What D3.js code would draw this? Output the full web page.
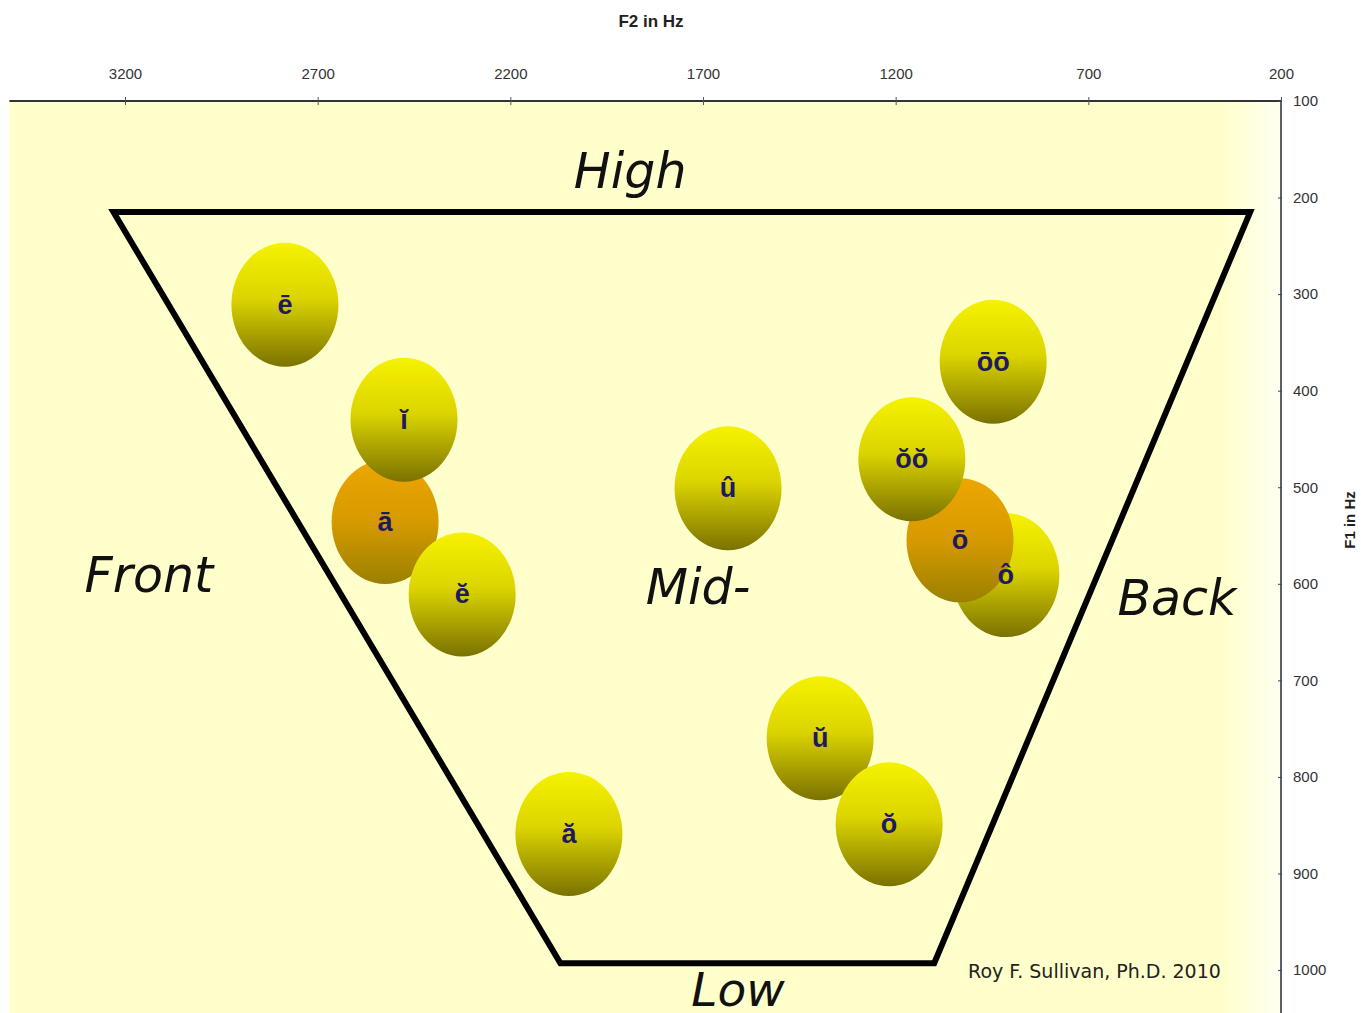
<!DOCTYPE html>
<html><head><meta charset="utf-8">
<script src="https://cdn.jsdelivr.net/npm/d3@7"></script>
<style>body{margin:0;background:#fff;overflow:hidden}svg{display:block}</style>
</head><body>
<script>
// ---- data ----
const vowels   = ["ē","ĭ","ā","ĕ","ă","û","ŭ","ŏ","ōō","ô","ō","ŏŏ"];
const f2Values = [2785,2476,2525,2325,2048,1635,1396,1217,947,914,1033,1158];
const f1Values = [311,430,536,611,859,501,760,849,370,591,555,471];
const kinds    = ["y","y","o","y","y","y","y","y","y","y","o","y"];
const drawOrder = [0,2,1,3,4,5,6,7,8,9,10,11];
const f2Ticks = [3200,2700,2200,1700,1200,700,200];
const f2TickLabels = ["3200","2700","2200","1700","1200","700","200"];
const f1Ticks = [100,200,300,400,500,600,700,800,900,1000];
const f1TickLabels = ["100","200","300","400","500","600","700","800","900","1000"];
const trapF2 = [3230,280,1100,2070];
const trapF1 = [215,215,993,993];
const regionLabels = ["High","Front","Mid-","Back","Low"];
const regionF2 = [1889,3138,1713,470,1609];
const regionF1 = [190,609,621,632,1037];
const regionSizes = [49,49,49,49,47];
const creditText = "Roy F. Sullivan, Ph.D. 2010";
const creditF2 = 1012, creditF1 = 1008;

// ---- layout ----
const W = 1361, H = 1013;
const x = d3.scaleLinear().domain([3500,200]).range([9.4,1281]);
const y = d3.scaleLinear().domain([100,1100]).range([101,1066.6]);

const svg = d3.select("body").append("svg").attr("width",W).attr("height",H);
const defs = svg.append("defs");
const bg = defs.append("linearGradient").attr("id","bg").attr("x1",0).attr("x2",1).attr("y1",0).attr("y2",0);
bg.append("stop").attr("offset","0%").attr("stop-color","#FFFFCC");
bg.append("stop").attr("offset","95.5%").attr("stop-color","#FFFFCC");
bg.append("stop").attr("offset","100%").attr("stop-color","#FFFFF2");
const gy = defs.append("linearGradient").attr("id","gy").attr("x1",0).attr("x2",0).attr("y1",0).attr("y2",1);
gy.append("stop").attr("offset","0%").attr("stop-color","#F6F200");
gy.append("stop").attr("offset","45%").attr("stop-color","#DCD400");
gy.append("stop").attr("offset","100%").attr("stop-color","#7A7200");
const go = defs.append("linearGradient").attr("id","go").attr("x1",0).attr("x2",0).attr("y1",0).attr("y2",1);
go.append("stop").attr("offset","0%").attr("stop-color","#EEA600");
go.append("stop").attr("offset","50%").attr("stop-color","#D69A00");
go.append("stop").attr("offset","100%").attr("stop-color","#9A8000");

// plot background
svg.append("rect").attr("x",x(3500)).attr("y",y(100)).attr("width",x(200)-x(3500)).attr("height",H-y(100)).attr("fill","url(#bg)");

// trapezoid
const pts = trapF2.map((f,i)=>[x(f),y(trapF1[i])]);
svg.append("path").attr("d",d3.line()(pts)+"Z").attr("fill","none").attr("stroke","#000").attr("stroke-width",6).attr("stroke-linejoin","miter");

// region labels
svg.selectAll("text.region").data(regionLabels).join("text").attr("class","region")
  .attr("x",(d,i)=>x(regionF2[i])).attr("y",(d,i)=>y(regionF1[i]))
  .attr("text-anchor","middle").attr("font-family","DejaVu Sans").attr("font-style","italic")
  .attr("font-size",(d,i)=>regionSizes[i]).attr("fill","#111").text(d=>d);

// bubbles
const RX = 53.5, RY = 62;
const g = svg.append("g");
drawOrder.forEach(i=>{
  g.append("ellipse").attr("cx",x(f2Values[i])).attr("cy",y(f1Values[i])).attr("rx",RX).attr("ry",RY)
   .attr("fill", kinds[i]==="o" ? "url(#go)" : "url(#gy)");
});
drawOrder.forEach(i=>{
  g.append("text").attr("x",x(f2Values[i])).attr("y",y(f1Values[i])+9).attr("text-anchor","middle")
   .attr("font-family","Liberation Sans").attr("font-weight","bold").attr("font-size",27)
   .attr("fill","#1d1a5e").text(vowels[i]);
});

// credit
svg.append("text").attr("x",x(creditF2)).attr("y",y(creditF1)).attr("font-family","DejaVu Sans")
  .attr("font-size",19).attr("fill","#222").text(creditText);

// top axis
const xa = svg.append("g").attr("transform",`translate(0,${y(100)})`)
  .call(d3.axisTop(x).tickValues(f2Ticks).tickFormat((d,i)=>f2TickLabels[i]).tickSize(4).tickPadding(18));
xa.select(".domain").attr("d",`M${x(3500)},0H${x(200)}`).attr("stroke","#333").attr("stroke-width",2);
xa.selectAll(".tick line").attr("stroke","#555").attr("y2",4).attr("y1",-4);
xa.selectAll(".tick text").attr("font-family","Liberation Sans").attr("font-size",15).attr("fill","#333");

// right axis
const ya = svg.append("g").attr("transform",`translate(${x(200)},0)`)
  .call(d3.axisRight(y).tickValues(f1Ticks).tickFormat((d,i)=>f1TickLabels[i]).tickSize(3).tickPadding(9));
ya.select(".domain").attr("d",`M0,${y(100)}V${H}`).attr("stroke","#5a5f70").attr("stroke-width",2);
ya.selectAll(".tick line").attr("stroke","#444").attr("x1",-3).attr("x2",1);
ya.selectAll(".tick text").attr("font-family","Liberation Sans").attr("font-size",15).attr("fill","#333");

// axis titles
svg.append("text").attr("x",651).attr("y",27).attr("text-anchor","middle").attr("font-family","Liberation Sans")
  .attr("font-weight","bold").attr("font-size",17).attr("fill","#222").text("F2 in Hz");
svg.append("text").attr("transform","translate(1355,520) rotate(-90)").attr("text-anchor","middle").attr("font-family","Liberation Sans")
  .attr("font-weight","bold").attr("font-size",15).attr("fill","#222").text("F1 in Hz");
</script>
</body></html>
